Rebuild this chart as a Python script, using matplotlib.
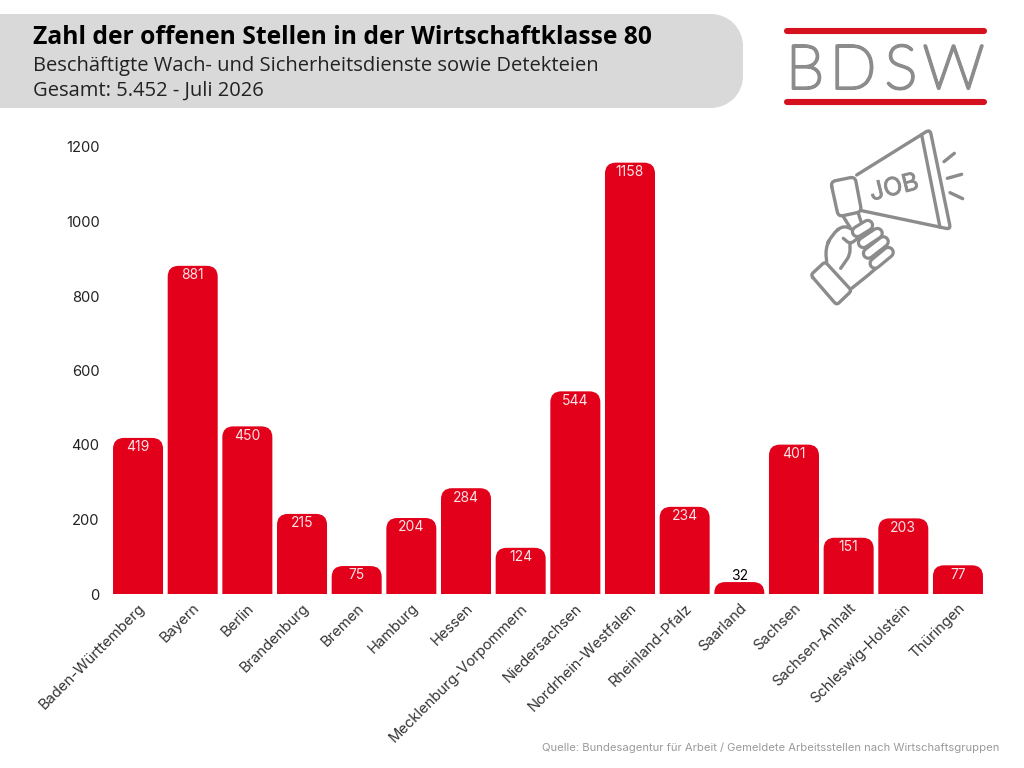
import matplotlib
matplotlib.use("Agg")
import matplotlib.pyplot as plt
import matplotlib.patches as patches
import matplotlib.patheffects as pe
from matplotlib.path import Path

states = ["Baden-Württemberg", "Bayern", "Berlin", "Brandenburg", "Bremen", "Hamburg", "Hessen",
          "Mecklenburg-Vorpommern", "Niedersachsen", "Nordrhein-Westfalen", "Rheinland-Pfalz",
          "Saarland", "Sachsen", "Sachsen-Anhalt", "Schleswig-Holstein", "Thüringen"]
jobs = [419, 881, 450, 215, 75, 204, 284, 124, 544, 1158, 234, 32, 401, 151, 203, 77]
y_ticks = [0, 200, 400, 600, 800, 1000, 1200]

W, H = 1024, 768
RED = "#e2001a"
GREY = "#8c8c8c"
PANEL = "#d9d9d9"
FONT = "Inter"
HEAD = "Open Sans"


def rounded_bar(x, height, width, rx, ry):
    # bar with rounded top corners, radius given in data units
    ry = min(ry, height)
    l, r = x - width / 2, x + width / 2
    verts = [(l, 0), (l, height - ry), (l, height), (l + rx, height), (r - rx, height),
             (r, height), (r, height - ry), (r, 0), (l, 0)]
    codes = [Path.MOVETO, Path.LINETO, Path.CURVE3, Path.CURVE3, Path.LINETO,
             Path.CURVE3, Path.CURVE3, Path.LINETO, Path.CLOSEPOLY]
    return patches.PathPatch(Path(verts, codes), facecolor=RED, edgecolor="none")


fig = plt.figure(figsize=(W / 100, H / 100), dpi=100, facecolor="white")

# chart area, placed so that 0 / 1200 and the bar pitch land on the reference pixels
left, right, top, bottom = 110.7, 985.3, 147, 594
ax = fig.add_axes([left / W, 1 - bottom / H, (right - left) / W, (bottom - top) / H])
ax.set_xlim(-0.5, len(states) - 0.5)
ax.set_ylim(0, 1200)
ax.patch.set_visible(False)
for s in ax.spines.values():
    s.set_visible(False)

rx = 11 / ((right - left) / len(states))
ry = 11 / ((bottom - top) / 1200)
for i, v in enumerate(jobs):
    ax.add_patch(rounded_bar(i, v, 0.915, rx, ry))
    if v < 50:
        ax.text(i, v - 2, str(v), ha="center", va="bottom", fontsize=10, color="black", family=FONT)
    else:
        ax.text(i, v - 25, str(v), ha="center", va="center", fontsize=10, color="#fbe3e6", family=FONT)

ax.set_yticks(y_ticks)
ax.set_yticklabels([str(t) for t in y_ticks], fontsize=10.6, color="#222222", family=FONT)
ax.set_xticks(range(len(states)))
ax.set_xticklabels(states, rotation=45, ha="right", rotation_mode="anchor", fontsize=10.6,
                   color="#333333", family=FONT)
ax.tick_params(axis="both", length=0)
ax.tick_params(axis="y", pad=8)
ax.tick_params(axis="x", pad=5)

# overlay in pixel coordinates for header, logo and icon
ov = fig.add_axes([0, 0, 1, 1], zorder=-1)
ov.set_xlim(0, W)
ov.set_ylim(H, 0)
ov.axis("off")
ov.add_patch(patches.Rectangle((-60, 14), 771, 94, facecolor=PANEL, edgecolor="none"))
ov.add_patch(patches.Rectangle((711, 46), 32, 30, facecolor=PANEL, edgecolor="none"))
ov.add_patch(patches.Circle((711, 46), 32, facecolor=PANEL, edgecolor="none"))
ov.add_patch(patches.Circle((711, 76), 32, facecolor=PANEL, edgecolor="none"))

ov.text(33, 38, "Zahl der offenen Stellen in der Wirtschaftklasse 80", fontsize=17.7, fontweight="bold",
        family=HEAD, color="black", va="center")
ov.text(33, 66, "Beschäftigte Wach- und Sicherheitsdienste sowie Detekteien", fontsize=14.5, family=HEAD,
        color="#222222", va="center")
ov.text(33, 91, "Gesamt: 5.452 - Juli 2026", fontsize=14.5, family=HEAD, color="#222222", va="center")
ov.text(999, 748, "Quelle: Bundesagentur für Arbeit / Gemeldete Arbeitsstellen nach Wirtschaftsgruppen",
        fontsize=8.1, family=FONT, color="#9a9a9a", ha="right", va="center")

# logo
for y in (30.5, 101.5):
    ov.plot([787, 984], [y, y], color="#d5101f", lw=4.4, solid_capstyle="round")
for letter, x in zip("BDSW", (805, 853, 901, 953.5)):
    ov.text(x, 88.5, letter, fontsize=44, family="Lato", fontweight="light", color=GREY,
            ha="center", va="baseline", path_effects=[pe.withStroke(linewidth=2.2, foreground=GREY)])


def px(p):
    return (800 + p[0] / 3, 120 + p[1] / 3)


def outline(pts, r=12, closed=False):
    # polygon with rounded corners, r in zoom pixels
    n = len(pts)
    verts, codes = [], []
    idx = range(n) if closed else range(1, n - 1)
    if not closed:
        verts.append(pts[0])
        codes.append(Path.MOVETO)
    for i in idx:
        a, b, c = pts[i - 1], pts[i], pts[(i + 1) % n]
        da = ((a[0] - b[0]) ** 2 + (a[1] - b[1]) ** 2) ** 0.5
        dc = ((c[0] - b[0]) ** 2 + (c[1] - b[1]) ** 2) ** 0.5
        p1 = (b[0] + (a[0] - b[0]) * r / da, b[1] + (a[1] - b[1]) * r / da)
        p2 = (b[0] + (c[0] - b[0]) * r / dc, b[1] + (c[1] - b[1]) * r / dc)
        verts += [p1, b, p2]
        codes += [Path.LINETO if verts[:-3] else Path.MOVETO, Path.CURVE3, Path.CURVE3]
    if closed:
        verts.append(verts[0])
        codes.append(Path.LINETO)
    else:
        verts.append(pts[-1])
        codes.append(Path.LINETO)
    ov.add_patch(patches.PathPatch(Path([px(v) for v in verts], codes), facecolor="none", edgecolor=GREY,
                                   lw=2.4, capstyle="round", joinstyle="round"))


def finger(p, q):
    xs, ys = zip(px(p), px(q))
    ov.plot(xs, ys, color=GREY, lw=9.4, solid_capstyle="round")
    ov.plot(xs, ys, color="white", lw=4.8, solid_capstyle="round")


# megaphone
outline([(92, 185), (165, 170), (185, 275), (115, 290)], r=15, closed=True)
outline([(170, 165), (390, 28), (452, 328), (185, 272)], r=14)
outline([(365, 45), (420, 322)])
outline([(432, 125), (463, 100)])
outline([(442, 175), (485, 163)])
outline([(450, 218), (488, 236)])
ov.text(800 + 283 / 3, 120 + 205 / 3, "JOB", fontsize=18, family=FONT, color=GREY, rotation=14,
        ha="center", va="center", path_effects=[pe.withStroke(linewidth=0.6, foreground=GREY)])

# hand
outline([(130, 290), (150, 322)])
outline([(175, 280), (183, 305)])
outline([(32, 465), (75, 425), (155, 512), (110, 555)], r=10, closed=True)
outline([(80, 425), (76, 385), (95, 345), (132, 313), (158, 330)], r=25)
finger((225, 430), (265, 397))
finger((205, 400), (250, 365))
finger((190, 368), (232, 340))
finger((172, 335), (203, 316))
outline([(130, 355), (150, 372), (178, 352), (170, 335)], r=12)
outline([(228, 445), (205, 465), (155, 505)], r=12)
outline([(150, 372), (150, 405), (122, 445)], r=15)

fig.savefig("out.png", dpi=100, facecolor="white")
